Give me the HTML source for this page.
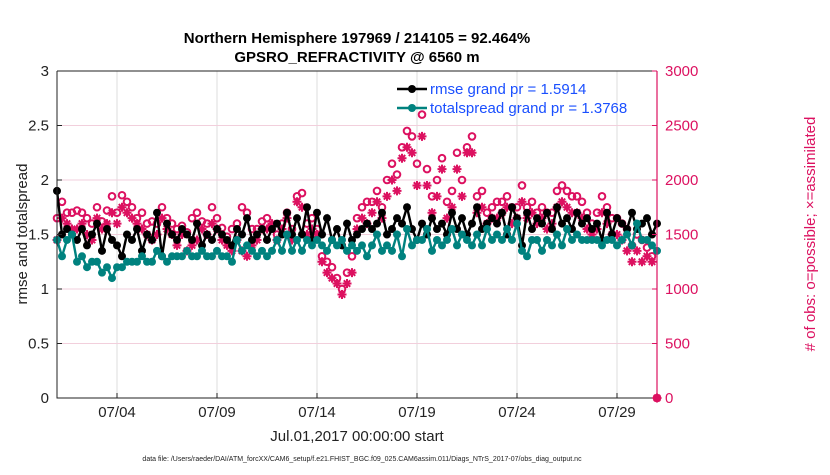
<!DOCTYPE html>
<html><head><meta charset="utf-8"><style>
body{margin:0;background:#fff;}
svg text{font-family:"Liberation Sans",Arial,sans-serif;}
</style></head><body>
<svg id="chart" width="830" height="470" xmlns="http://www.w3.org/2000/svg"></svg>
<script>
const dayTicks=[3,8,13,18,23,28];
const dayTickLabels=["07/04","07/09","07/14","07/19","07/24","07/29"];
const leftTicks=[0,0.5,1,1.5,2,2.5,3];
const leftTickLabels=["0","0.5","1","1.5","2","2.5","3"];
const rightTicks=[0,500,1000,1500,2000,2500,3000];
const rmse=[1.9,1.5,1.55,1.5,1.45,1.55,1.4,1.5,1.6,1.35,1.55,1.45,1.4,1.3,1.5,1.45,1.55,1.35,1.5,1.45,1.7,1.3,1.6,1.5,1.45,1.55,1.5,1.45,1.6,1.4,1.5,1.45,1.55,1.5,1.45,1.4,1.55,1.5,1.65,1.45,1.5,1.55,1.45,1.55,1.6,1.5,1.7,1.5,1.65,1.5,1.75,1.45,1.7,1.5,1.65,1.45,1.55,1.4,1.6,1.45,1.5,1.55,1.6,1.55,1.6,1.7,1.5,1.55,1.65,1.6,1.75,1.55,1.45,1.6,1.5,1.65,1.55,1.6,1.5,1.7,1.55,1.65,1.5,1.6,1.75,1.55,1.6,1.65,1.6,1.7,1.5,1.75,1.65,1.4,1.7,1.55,1.65,1.6,1.7,1.55,1.75,1.6,1.65,1.55,1.7,1.6,1.65,1.55,1.6,1.45,1.7,1.5,1.65,1.6,1.55,1.7,1.55,1.6,1.65,1.5,1.6];
const spread=[1.45,1.3,1.45,1.5,1.25,1.3,1.2,1.25,1.25,1.15,1.2,1.1,1.2,1.2,1.25,1.25,1.25,1.3,1.25,1.25,1.35,1.3,1.25,1.3,1.3,1.3,1.35,1.3,1.3,1.35,1.3,1.3,1.35,1.3,1.3,1.25,1.45,1.35,1.4,1.35,1.3,1.35,1.3,1.35,1.45,1.35,1.5,1.35,1.45,1.35,1.45,1.4,1.45,1.4,1.35,1.45,1.4,1.45,1.35,1.4,1.35,1.4,1.3,1.4,1.5,1.35,1.4,1.35,1.5,1.3,1.55,1.4,1.45,1.45,1.55,1.35,1.45,1.4,1.45,1.55,1.4,1.5,1.45,1.4,1.5,1.4,1.55,1.45,1.5,1.45,1.55,1.45,1.6,1.35,1.3,1.45,1.45,1.35,1.45,1.4,1.5,1.4,1.55,1.45,1.5,1.45,1.45,1.45,1.45,1.4,1.45,1.45,1.4,1.45,1.5,1.4,1.6,1.45,1.45,1.4,1.35];
const possible=[1650,1800,1700,1700,1720,1700,1650,1600,1750,1620,1720,1850,1700,1860,1800,1750,1650,1700,1600,1620,1600,1750,1650,1600,1550,1580,1520,1650,1700,1620,1600,1750,1650,1560,1480,1550,1600,1750,1700,1550,1550,1620,1650,1580,1500,1600,1700,1550,1850,1880,1600,1650,1550,1300,1250,1200,1100,1000,1150,1300,1650,1750,1800,1800,1900,1750,2000,2150,2050,2300,2450,2400,2150,2600,2100,1850,2000,2200,1800,1900,2250,2000,2300,2400,1850,1900,1700,1750,1800,1800,1850,1750,1750,1950,1750,1800,1700,1750,1700,1700,1900,1950,1900,1850,1850,1800,1700,1600,1700,1850,1750,1650,1650,1600,1550,1400,1500,1450,1380,1300,0];
const assimilated=[1450,1650,1600,1550,1550,1600,1500,1450,1650,1550,1600,1700,1600,1750,1700,1650,1600,1550,1500,1450,1500,1650,1550,1500,1400,1500,1350,1400,1450,1550,1500,1600,1550,1450,1400,1350,1450,1350,1300,1400,1450,1550,1550,1600,1450,1550,1650,1450,1800,1750,1500,1550,1500,1250,1150,1100,1050,950,1050,1150,1550,1650,1600,1700,1800,1650,1850,2000,1900,2200,2300,2250,1950,2400,1950,1700,1850,2100,1650,1750,2100,1850,2250,2250,1700,1750,1600,1650,1650,1700,1750,1600,1650,1800,1650,1700,1600,1650,1550,1600,1750,1800,1750,1700,1700,1650,1550,1500,1550,1700,1600,1500,1500,1450,1350,1250,1350,1250,1300,1250,0];

const NS="http://www.w3.org/2000/svg";
const svg=document.getElementById('chart');
const L=57,R=657,T=71,B=398,XMAX=30;
const PINK="#dc1160",TEAL="#00827f";
function xs(i){return L+(i*0.25)/XMAX*(R-L);}
function xd(d){return L+d/XMAX*(R-L);}
function yl(v){return B-v/3*(B-T);}
function yr(v){return B-v/3000*(B-T);}
function mk(tag,attrs,parent){const e=document.createElementNS(NS,tag);for(const k in attrs)e.setAttribute(k,attrs[k]);(parent||svg).appendChild(e);return e;}
function txt(s,attrs,parent){const e=mk('text',attrs,parent);e.textContent=s;return e;}

const grid=mk('g',{});


dayTicks.forEach(d=>mk('line',{x1:xd(d),x2:xd(d),y1:T,y2:B,stroke:'#dcdcdc','stroke-width':1},grid));
leftTicks.forEach(v=>mk('line',{x1:L,x2:R,y1:yl(v),y2:yl(v),stroke:'#f2cfdc','stroke-width':1},grid));

function lineSeries(vals,color,name){
  const g=mk('g',{});
  
  
  mk('polyline',{points:vals.map((v,i)=>xs(i)+','+yl(v)).join(' '),fill:'none',stroke:color,'stroke-width':2.4},g);
  vals.forEach((v,i)=>mk('circle',{cx:xs(i),cy:yl(v),r:4,fill:color},g));
}
const pg=mk('g',{});


possible.forEach((v,i)=>mk('circle',{cx:xs(i),cy:yr(v),r:3.3,fill:'none',stroke:PINK,'stroke-width':2},pg));
const ag=mk('g',{});


assimilated.forEach((v,i)=>{const x=xs(i),y=yr(v),r=4.5,q=3.2;
  mk('path',{d:`M${x-r},${y}H${x+r}M${x},${y-r}V${y+r}M${x-q},${y-q}L${x+q},${y+q}M${x-q},${y+q}L${x+q},${y-q}`,stroke:PINK,'stroke-width':2},ag);});
lineSeries(rmse,'#000','rmse-series');
lineSeries(spread,TEAL,'totalspread-series');

const ax=mk('g',{});


mk('path',{d:`M${L},${T}H${R}M${L},${T}V${B}H${R}`,fill:'none',stroke:'#222','stroke-width':1},ax);
mk('line',{x1:R,x2:R,y1:T,y2:B,stroke:PINK,'stroke-width':1.2},ax);
leftTicks.forEach((v,i)=>{mk('line',{x1:L,x2:L+5,y1:yl(v),y2:yl(v),stroke:'#222'},ax);
  txt(leftTickLabels[i],{x:L-8,y:yl(v)+5,'text-anchor':'end','font-size':15,fill:'#222'},ax);});
rightTicks.forEach(v=>{mk('line',{x1:R-5,x2:R,y1:yr(v),y2:yr(v),stroke:PINK},ax);
  txt(String(v),{x:R+8,y:yr(v)+5,'font-size':15,fill:PINK},ax);});
dayTicks.forEach((d,i)=>{mk('line',{x1:xd(d),x2:xd(d),y1:B-5,y2:B,stroke:'#222'},ax);
  txt(dayTickLabels[i],{x:xd(d),y:B+19,'text-anchor':'middle','font-size':15,fill:'#222'},ax);});

const t1=txt('Northern Hemisphere 197969 / 214105 = 92.464%',{x:357,y:43,'text-anchor':'middle','font-size':15,'font-weight':'bold',fill:'#000'});


const t2=txt('GPSRO_REFRACTIVITY @ 6560 m',{x:357,y:62,'text-anchor':'middle','font-size':15,'font-weight':'bold',fill:'#000'});


const yt=txt('rmse and totalspread',{x:0,y:0,transform:'translate(27,234) rotate(-90)','text-anchor':'middle','font-size':15,fill:'#222'});


const yt2=txt('# of obs: o=possible; \u00d7=assimilated',{x:0,y:0,transform:'translate(815,234) rotate(-90)','text-anchor':'middle','font-size':15,fill:PINK});


const xt=txt('Jul.01,2017 00:00:00 start',{x:357,y:441,'text-anchor':'middle','font-size':15,fill:'#222'});


const fn=txt('data file: /Users/raeder/DAI/ATM_forcXX/CAM6_setup/f.e21.FHIST_BGC.f09_025.CAM6assim.011/Diags_NTrS_2017-07/obs_diag_output.nc',{x:362,y:461,'text-anchor':'middle','font-size':7,fill:'#222'});



const lg=mk('g',{});


[['rmse grand pr = 1.5914','#000',89],['totalspread grand pr = 1.3768',TEAL,108]].forEach(e=>{
  mk('line',{x1:397,x2:427,y1:e[2],y2:e[2],stroke:e[1],'stroke-width':2.4},lg);
  mk('circle',{cx:412,cy:e[2],r:4,fill:e[1]},lg);
  txt(e[0],{x:430,y:e[2]+5,'font-size':15,fill:'#1a4fff'},lg);
});
</script>
</body></html>
